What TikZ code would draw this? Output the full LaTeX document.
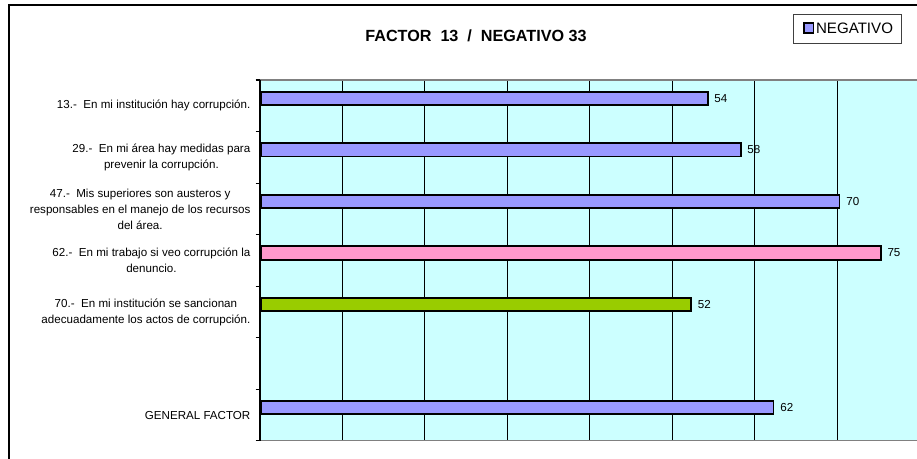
\documentclass[tikz,border=0pt]{standalone}
\usepackage{fontspec}
\setmainfont{Liberation Sans}
\usetikzlibrary{positioning}

\definecolor{negblue}{RGB}{153,153,255}
\definecolor{negpink}{RGB}{255,153,204}
\definecolor{neggreen}{RGB}{153,204,0}
\definecolor{plotbg}{RGB}{204,255,255}

\tikzset{
  qlabel/.style={anchor=east, align=center, inner sep=0pt, font=\fontsize{6.6}{9.1}\selectfont},
  bar/.style={draw=black, line width=1pt, anchor=west, minimum height=0.265cm, inner sep=0pt},
  vlabel/.style={inner sep=0pt, font=\fontsize{6.6}{8}\selectfont},
  gridline/.style={black, line width=0.5pt},
  plotedge/.style={black!50, line width=0.7pt},
}

\begin{document}
\begin{tikzpicture}[x=0.02cm, y=-0.02cm]
   \useasboundingbox (0,0) rectangle (917,459);
   \clip (0,0) rectangle (917,459);
   % frame and plot area
   \draw[line width=0.7pt] (9,470) -- (9,5) -- (930,5);
   \fill[plotbg] (260,80) rectangle (930,440.7);
   \draw[gridline] (342.5,80) -- (342.5,440.7);
   \draw[gridline] (424.9,80) -- (424.9,440.7);
   \draw[gridline] (507.4,80) -- (507.4,440.7);
   \draw[gridline] (589.9,80) -- (589.9,440.7);
   \draw[gridline] (672.4,80) -- (672.4,440.7);
   \draw[gridline] (754.8,80) -- (754.8,440.7);
   \draw[gridline] (837.3,80) -- (837.3,440.7);
   \draw[plotedge] (260,80) -- (930,80);
   \draw[plotedge] (260,440.7) -- (930,440.7);
   \draw[line width=0.6pt] (260,80) -- (260,440.7);
   \draw[line width=0.6pt] (255.5,80) -- (260,80);
   \draw[line width=0.6pt] (255.5,131.6) -- (260,131.6);
   \draw[line width=0.6pt] (255.5,183.1) -- (260,183.1);
   \draw[line width=0.6pt] (255.5,234.7) -- (260,234.7);
   \draw[line width=0.6pt] (255.5,286.3) -- (260,286.3);
   \draw[line width=0.6pt] (255.5,337.8) -- (260,337.8);
   \draw[line width=0.6pt] (255.5,389.4) -- (260,389.4);
   \draw[line width=0.6pt] (255.5,440.7) -- (260,440.7);

   % title and legend
   \node[font=\fontsize{9.2}{11}\selectfont\bfseries] (title) at (476,36) {FACTOR\ \ 13\ \ /\ \ NEGATIVO 33};
   \node[draw=black!75, fill=white, line width=0.6pt, anchor=north west, minimum width=2.16cm, minimum height=0.586cm, inner sep=0pt] (legend) at (793.3,14) {};
   \node[draw=black, fill=negblue, line width=0.9pt, minimum size=0.19cm, inner sep=0pt] (legsym) at (808.7,28) {};
   \node[anchor=west, inner sep=0pt, font=\fontsize{8.6}{10}\selectfont] (legtext) at (815.7,28.7) {NEGATIVO};

   % questions
   \node[qlabel] (q13) at (250.7,105.8) {13.-\ \ En mi institución hay corrupción.};
   \node[qlabel] (q29) at (250.7,157.4) {29.-\ \ En mi área hay medidas para\\prevenir la corrupción.};
   \node[qlabel] (q47) at (250.7,209) {47.-\ \ Mis superiores son austeros y\\responsables en el manejo de los recursos\\del área.};
   \node[qlabel] (q62) at (250.7,260.5) {62.-\ \ En mi trabajo si veo corrupción la\\denuncio.};
   \node[qlabel] (q70) at (250.7,312.1) {70.-\ \ En mi institución se sancionan\\adecuadamente los actos de corrupción.};
   \node[qlabel] (gen) at (250.7,415.2) {GENERAL FACTOR};

   % bars
   \node[bar, fill=negblue, minimum width=54*0.16494cm+0.03cm] (b13) at (260,98.3) {};
   \node[bar, fill=negblue, minimum width=58*0.16494cm+0.03cm] (b29) at (260,149.9) {};
   \node[bar, fill=negblue, minimum width=70*0.16494cm+0.03cm] (b47) at (260,201.5) {};
   \node[bar, fill=negpink, minimum width=75*0.16494cm+0.03cm] (b62) at (260,253) {};
   \node[bar, fill=neggreen, minimum width=52*0.16494cm+0.03cm] (b70) at (260,304.6) {};
   \node[bar, fill=negblue, minimum width=62*0.16494cm+0.03cm] (bgen) at (260,407.7) {};

   % values
   \node[vlabel, right=0.11cm of b13] (v13) {54};
   \node[vlabel, right=0.11cm of b29] (v29) {58};
   \node[vlabel, right=0.11cm of b47] (v47) {70};
   \node[vlabel, right=0.11cm of b62] (v62) {75};
   \node[vlabel, right=0.11cm of b70] (v70) {52};
   \node[vlabel, right=0.11cm of bgen] (vgen) {62};
\end{tikzpicture}
\end{document}
